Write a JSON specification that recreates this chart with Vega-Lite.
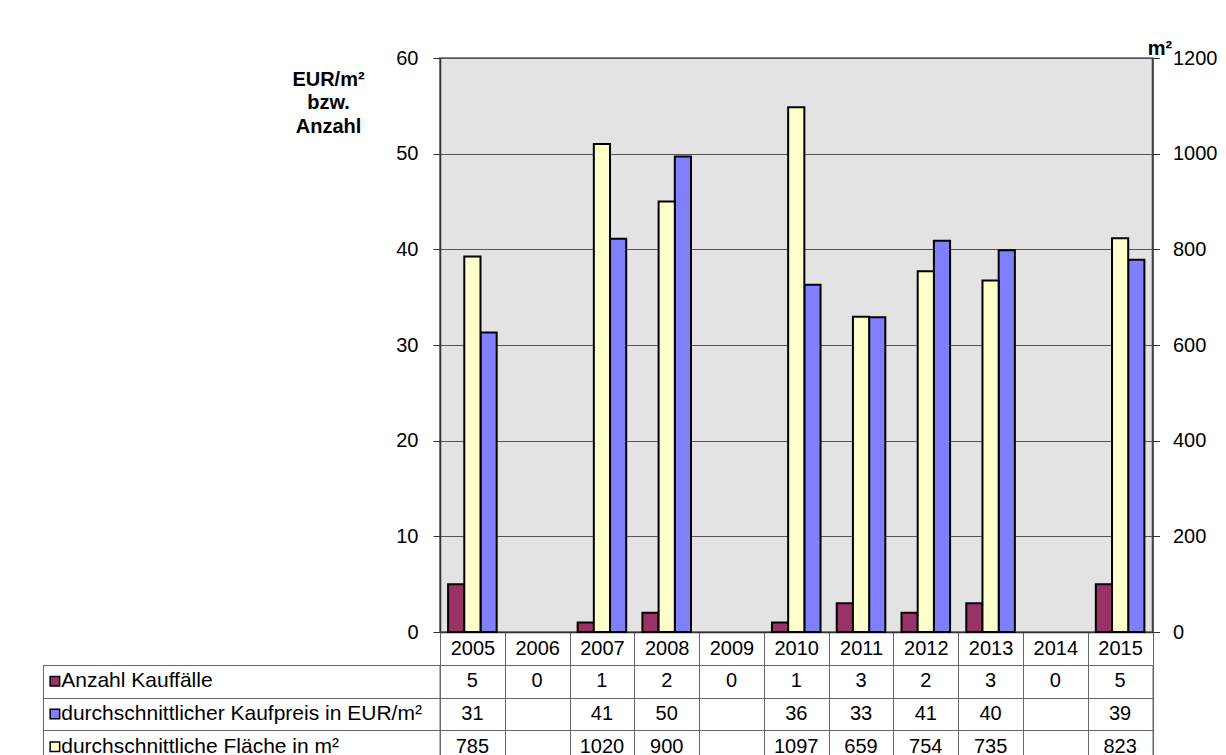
{
  "$schema": "https://vega.github.io/schema/vega-lite/v6.json",
  "padding": {"left": 42, "top": 37, "right": 0, "bottom": 0},
  "background": "white",
  "config": {"font": "Liberation Sans", "view": {"stroke": null}},
  "datasets": {
    "main": [
      {"year": "2005", "anzahl": 5, "preis": 31.3, "flaeche": 785},
      {"year": "2006", "anzahl": 0, "preis": null, "flaeche": null},
      {"year": "2007", "anzahl": 1, "preis": 41.1, "flaeche": 1020},
      {"year": "2008", "anzahl": 2, "preis": 49.7, "flaeche": 900},
      {"year": "2009", "anzahl": 0, "preis": null, "flaeche": null},
      {"year": "2010", "anzahl": 1, "preis": 36.3, "flaeche": 1097},
      {"year": "2011", "anzahl": 3, "preis": 32.9, "flaeche": 659},
      {"year": "2012", "anzahl": 2, "preis": 40.9, "flaeche": 754},
      {"year": "2013", "anzahl": 3, "preis": 39.9, "flaeche": 735},
      {"year": "2014", "anzahl": 0, "preis": null, "flaeche": null},
      {"year": "2015", "anzahl": 5, "preis": 38.9, "flaeche": 823}
    ],
    "labels": [
      {"key": "anzahl", "label": "Anzahl Kauffälle"},
      {"key": "preis", "label": "durchschnittlicher Kaufpreis in EUR/m²"},
      {"key": "flaeche", "label": "durchschnittliche Fläche in m²"}
    ]
  },
  "columns": 2,
  "align": "each",
  "bounds": "flush",
  "spacing": {"row": 33, "column": 0},
  "resolve": {"scale": {"x": "independent", "y": "independent", "color": "shared"}},
  "concat": [
    {
      "width": 10,
      "height": 10,
      "data": {"values": [{"t": ""}]},
      "mark": {"type": "text"},
      "encoding": {"text": {"field": "t"}}
    },
    {
      "width": 712.5,
      "height": 574,
      "view": {"stroke": "#888888", "strokeWidth": 2, "fill": "#e3e3e3"},
      "data": {"name": "main"},
      "encoding": {
        "x": {
          "field": "year", "type": "nominal",
          "scale": {"domain": ["2005", "2006", "2007", "2008", "2009", "2010", "2011", "2012", "2013", "2014", "2015"], "paddingInner": 0, "paddingOuter": 0},
          "axis": {"title": null, "labelAngle": 0, "labelFontSize": 20, "labelColor": "black", "labelBaseline": "middle", "labelPadding": -17, "tickBand": "extent", "tickSize": 33, "tickColor": "#666666", "domainColor": "#333333", "domainWidth": 1.5, "grid": false}
        },
        "xOffset": {"field": "key", "type": "nominal", "scale": {"domain": ["anzahl", "flaeche", "preis"], "paddingInner": 0, "paddingOuter": 0.5}},
        "color": {"field": "key", "type": "nominal", "scale": {"domain": ["anzahl", "flaeche", "preis"], "range": ["#993366", "#FFFFCC", "#8080FF"]}, "legend": null}
      },
      "layer": [
        {
          "transform": [{"fold": ["anzahl", "preis"], "as": ["key", "value"]}, {"filter": "datum.value > 0"}],
          "mark": {"type": "bar", "stroke": "black", "strokeWidth": 2},
          "encoding": {
            "y": {
              "field": "value", "type": "quantitative",
              "scale": {"domain": [0, 60]},
              "axis": {"values": [0, 10, 20, 30, 40, 50, 60], "format": "d", "grid": true, "gridColor": "#555555", "labelFontSize": 20, "labelColor": "black", "labelPadding": 15, "tickSize": 7, "tickColor": "#333333", "domainColor": "#333333", "domainWidth": 1.5, "title": ["EUR/m²", "bzw.", "Anzahl"], "titleAngle": 0, "titleAlign": "center", "titleBaseline": "top", "titleX": -112, "titleY": 11, "titleFontSize": 20, "titleFontWeight": "bold", "titleColor": "black", "titleLineHeight": 23.5}
            }
          }
        },
        {
          "transform": [{"fold": ["flaeche"], "as": ["key", "value"]}, {"filter": "datum.value > 0"}],
          "mark": {"type": "bar", "stroke": "black", "strokeWidth": 2},
          "encoding": {
            "y": {
              "field": "value", "type": "quantitative",
              "scale": {"domain": [0, 1200]},
              "axis": {"orient": "right", "values": [0, 200, 400, 600, 800, 1000, 1200], "format": "d", "grid": false, "labelFontSize": 20, "labelColor": "black", "labelPadding": 13, "tickSize": 7, "tickColor": "#333333", "domainColor": "#333333", "domainWidth": 1.5, "title": "m²", "titleAngle": 0, "titleAlign": "center", "titleBaseline": "alphabetic", "titleX": 7, "titleY": -4, "titleFontSize": 20, "titleFontWeight": "bold", "titleColor": "black"}
            }
          }
        }
      ],
      "resolve": {"scale": {"y": "independent"}}
    },
    {
      "width": 396.5,
      "height": 98,
      "view": {"stroke": "#666666"},
      "data": {"name": "labels"},
      "encoding": {
        "y": {
          "field": "key", "type": "nominal",
          "scale": {"domain": ["anzahl", "preis", "flaeche"], "paddingInner": 0, "paddingOuter": 0},
          "axis": {"labels": false, "ticks": false, "domain": false, "grid": true, "tickBand": "extent", "gridColor": "#666666", "title": null}
        }
      },
      "layer": [
        {
          "mark": {"type": "point", "shape": "square", "filled": true, "size": 90, "stroke": "black", "strokeWidth": 1.5, "opacity": 1},
          "encoding": {
            "x": {"datum": 3.0, "type": "quantitative", "scale": {"domain": [0, 100]}, "axis": null},
            "color": {"field": "key", "type": "nominal", "scale": {"domain": ["anzahl", "flaeche", "preis"], "range": ["#993366", "#FFFFCC", "#8080FF"]}, "legend": null}
          }
        },
        {
          "mark": {"type": "text", "align": "left", "baseline": "middle", "fontSize": 21, "color": "black"},
          "encoding": {
            "x": {"datum": 4.6, "type": "quantitative", "scale": {"domain": [0, 100]}, "axis": null},
            "text": {"field": "label"}
          }
        }
      ]
    },
    {
      "width": 712.5,
      "height": 98,
      "view": {"stroke": "#666666"},
      "data": {"name": "main"},
      "transform": [{"fold": ["anzahl", "preis", "flaeche"], "as": ["key", "value"]}, {"filter": "datum.value != null"}],
      "mark": {"type": "text", "fontSize": 20, "color": "black", "baseline": "middle"},
      "encoding": {
        "x": {
          "field": "year", "type": "nominal",
          "scale": {"domain": ["2005", "2006", "2007", "2008", "2009", "2010", "2011", "2012", "2013", "2014", "2015"], "paddingInner": 0, "paddingOuter": 0},
          "axis": {"orient": "top", "labels": false, "ticks": false, "domain": false, "grid": true, "tickBand": "extent", "gridColor": "#666666", "title": null}
        },
        "y": {
          "field": "key", "type": "nominal",
          "scale": {"domain": ["anzahl", "preis", "flaeche"], "paddingInner": 0, "paddingOuter": 0},
          "axis": {"labels": false, "ticks": false, "domain": false, "grid": true, "tickBand": "extent", "gridColor": "#666666", "title": null}
        },
        "text": {"field": "value", "type": "quantitative", "format": ".0f"}
      }
    }
  ]
}
